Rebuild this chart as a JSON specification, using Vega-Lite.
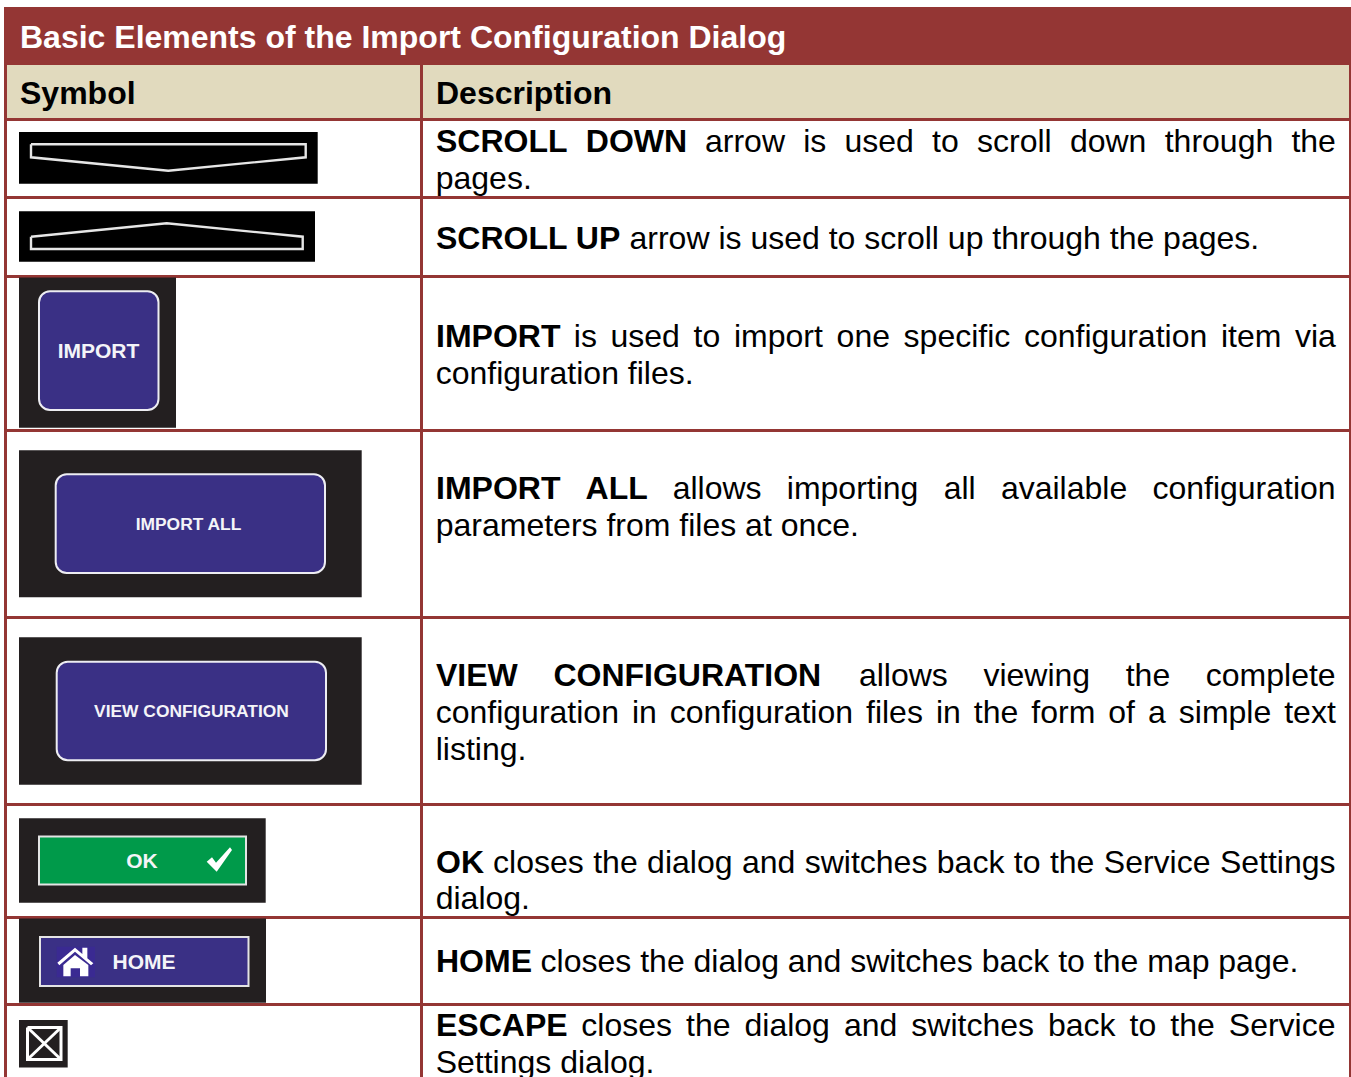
{
"$schema":"https://vega.github.io/schema/vega-lite/v6.json",
"width":1351,"height":1077,"autosize":{"type":"none"},"padding":0,"background":"#ffffff",
"config":{"view":{"stroke":null},"text":{"font":"Liberation Sans"}},
"datasets":{
"panels":[
{"part":"title","x":4,"x2":1351,"y":7,"y2":65},
{"part":"header","x":7,"x2":420,"y":65,"y2":118},
{"part":"header","x":423,"x2":1349,"y":65,"y2":118},
{"part":"rule","x":4,"x2":7,"y":65,"y2":1077},
{"part":"rule","x":420,"x2":423,"y":65,"y2":1077},
{"part":"rule","x":1349,"x2":1351,"y":65,"y2":1077},
{"part":"rule","x":4,"x2":1351,"y":118,"y2":121},
{"part":"rule","x":4,"x2":1351,"y":196,"y2":199},
{"part":"rule","x":4,"x2":1351,"y":275,"y2":278},
{"part":"rule","x":4,"x2":1351,"y":429,"y2":432},
{"part":"rule","x":4,"x2":1351,"y":616,"y2":619},
{"part":"rule","x":4,"x2":1351,"y":803,"y2":806},
{"part":"rule","x":4,"x2":1351,"y":916,"y2":919},
{"part":"rule","x":4,"x2":1351,"y":1003,"y2":1006},
{"part":"black","x":19,"x2":317.7,"y":132,"y2":183.7},
{"part":"black","x":19,"x2":315,"y":211.3,"y2":261.7},
{"part":"dark","x":19,"x2":176,"y":277.5,"y2":427.7},
{"part":"dark","x":19,"x2":361.7,"y":450.3,"y2":597.3},
{"part":"dark","x":19,"x2":361.7,"y":637.3,"y2":784.7},
{"part":"dark","x":19,"x2":265.7,"y":818.3,"y2":902.7},
{"part":"dark","x":19,"x2":266,"y":918.5,"y2":1002.7},
{"part":"dark","x":19,"x2":67.7,"y":1020,"y2":1067.5}
],
"rounded":[
{"button":"IMPORT","x":39,"x2":158.5,"y":291.3,"y2":410},
{"button":"IMPORT ALL","x":55.7,"x2":325,"y":474.3,"y2":573},
{"button":"VIEW CONFIGURATION","x":56.7,"x2":326,"y":661.7,"y2":760.3}
],
"square":[
{"part":"ok","x":39,"x2":246,"y":836.5,"y2":884.5},
{"part":"home","x":40,"x2":248.5,"y":937,"y2":986}
],
"homeIcon":[{"part":"homeIcon","x":56.7,"x2":95,"y":946.7,"y2":977.3}],
"outlines":[
{"shape":"down","step":1,"x":31,"y":144.3},{"shape":"down","step":2,"x":305.7,"y":144.3},{"shape":"down","step":3,"x":305.7,"y":157.3},{"shape":"down","step":4,"x":168.3,"y":170.7},{"shape":"down","step":5,"x":31,"y":157.3},{"shape":"down","step":6,"x":31,"y":144.3},
{"shape":"up","step":1,"x":31,"y":236.7},{"shape":"up","step":2,"x":166.7,"y":223.3},{"shape":"up","step":3,"x":302.7,"y":236.7},{"shape":"up","step":4,"x":302.7,"y":249},{"shape":"up","step":5,"x":31,"y":249},{"shape":"up","step":6,"x":31,"y":236.7}
],
"escape":[
{"shape":"box","step":1,"x":27.5,"y":1027.5},{"shape":"box","step":2,"x":61,"y":1027.5},{"shape":"box","step":3,"x":61,"y":1059.5},{"shape":"box","step":4,"x":27.5,"y":1059.5},{"shape":"box","step":5,"x":27.5,"y":1027.5},
{"shape":"d1","step":1,"x":27.5,"y":1027.5},{"shape":"d1","step":2,"x":61,"y":1059.5},
{"shape":"d2","step":1,"x":61,"y":1027.5},{"shape":"d2","step":2,"x":27.5,"y":1059.5}
],
"check":[{"icon":"check","x":219.5,"y":860}],
"house":[{"icon":"house","x":75,"y":961.7}],
"labelsLarge":[
{"label":"IMPORT","x":98.5,"y":358},
{"label":"OK","x":142,"y":868},
{"label":"HOME","x":144,"y":969}
],
"labelsSmall":[
{"label":"IMPORT ALL","x":188.5,"y":530},
{"label":"VIEW CONFIGURATION","x":191.5,"y":717}
],
"titleText":[{"word":"Basic Elements of the Import Configuration Dialog","x":20,"y":48}],
"bold":[
{"word":"Symbol","x":20,"y":104},{"word":"Description","x":436,"y":104},
{"word":"SCROLL","x":436,"y":152},{"word":"DOWN","x":585.8,"y":152},
{"word":"SCROLL UP","x":436,"y":249},
{"word":"IMPORT","x":436,"y":347},
{"word":"IMPORT","x":436,"y":499},{"word":"ALL","x":585.6,"y":499},
{"word":"VIEW","x":436,"y":686},{"word":"CONFIGURATION","x":553.4,"y":686},
{"word":"OK","x":436,"y":873},
{"word":"HOME","x":436,"y":972},
{"word":"ESCAPE","x":436,"y":1036}
],
"regular":[
{"word":"arrow","x":705,"y":152},{"word":"is","x":803.2,"y":152},{"word":"used","x":844.5,"y":152},{"word":"to","x":932.1,"y":152},{"word":"scroll","x":977,"y":152},{"word":"down","x":1069.9,"y":152},{"word":"through","x":1164.7,"y":152},{"word":"the","x":1291.4,"y":152},
{"word":"pages.","x":435.7,"y":189},
{"word":"arrow is used to scroll up through the pages.","x":629.5,"y":249},
{"word":"is","x":573.8,"y":347},{"word":"used","x":610.5,"y":347},{"word":"to","x":693.6,"y":347},{"word":"import","x":734,"y":347},{"word":"one","x":836.6,"y":347},{"word":"specific","x":903.6,"y":347},{"word":"configuration","x":1024,"y":347},{"word":"item","x":1220.9,"y":347},{"word":"via","x":1295,"y":347},
{"word":"configuration files.","x":435.7,"y":384},
{"word":"allows","x":672.7,"y":499},{"word":"importing","x":786.8,"y":499},{"word":"all","x":943.7,"y":499},{"word":"available","x":1000.9,"y":499},{"word":"configuration","x":1152.4,"y":499},
{"word":"parameters from files at once.","x":435.7,"y":536},
{"word":"allows","x":858.9,"y":686},{"word":"viewing","x":983.4,"y":686},{"word":"the","x":1125.7,"y":686},{"word":"complete","x":1205.8,"y":686},
{"word":"configuration","x":435.7,"y":723},{"word":"in","x":631.9,"y":723},{"word":"configuration","x":669.8,"y":723},{"word":"files","x":866,"y":723},{"word":"in","x":935.9,"y":723},{"word":"the","x":973.8,"y":723},{"word":"form","x":1031.3,"y":723},{"word":"of","x":1108.3,"y":723},{"word":"a","x":1148,"y":723},{"word":"simple","x":1178.8,"y":723},{"word":"text","x":1284.2,"y":723},
{"word":"listing.","x":435.7,"y":760},
{"word":"closes","x":493.1,"y":873},{"word":"the","x":593.2,"y":873},{"word":"dialog","x":647.1,"y":873},{"word":"and","x":741.9,"y":873},{"word":"switches","x":804.7,"y":873},{"word":"back","x":936.8,"y":873},{"word":"to","x":1013.8,"y":873},{"word":"the","x":1049.9,"y":873},{"word":"Service","x":1103.8,"y":873},{"word":"Settings","x":1219.9,"y":873},
{"word":"dialog.","x":435.7,"y":909},
{"word":"closes the dialog and switches back to the map page.","x":540.6,"y":972},
{"word":"closes","x":581.3,"y":1036},{"word":"the","x":686,"y":1036},{"word":"dialog","x":744.5,"y":1036},{"word":"and","x":843.9,"y":1036},{"word":"switches","x":911.3,"y":1036},{"word":"back","x":1048,"y":1036},{"word":"to","x":1129.6,"y":1036},{"word":"the","x":1170.3,"y":1036},{"word":"Service","x":1228.8,"y":1036},
{"word":"Settings dialog.","x":435.7,"y":1073}
]
},
"encoding":{
"x":{"field":"x","type":"quantitative","scale":{"domain":[0,1351],"nice":false,"zero":false},"axis":null},
"y":{"field":"y","type":"quantitative","scale":{"domain":[1077,0],"nice":false,"zero":false},"axis":null}
},
"layer":[
{"data":{"name":"panels"},"mark":{"type":"rect"},
 "encoding":{"x2":{"field":"x2"},"y2":{"field":"y2"},
 "color":{"field":"part","type":"nominal","legend":null,"scale":{"domain":["title","header","rule","black","dark"],"range":["#943634","#E1DABE","#943634","#000000","#231F20"]}}}},
{"data":{"name":"rounded"},"mark":{"type":"rect","cornerRadius":11,"fill":"#3A3085","stroke":"#EDEDF2","strokeWidth":2},
 "encoding":{"x2":{"field":"x2"},"y2":{"field":"y2"}}},
{"data":{"name":"square"},"mark":{"type":"rect","stroke":"#E4E4E4","strokeWidth":2},
 "encoding":{"x2":{"field":"x2"},"y2":{"field":"y2"},
 "fill":{"field":"part","type":"nominal","legend":null,"scale":{"domain":["ok","home"],"range":["#009A4A","#3A3085"]}}}},
{"data":{"name":"homeIcon"},"mark":{"type":"rect","fill":"#3A2A92"},
 "encoding":{"x2":{"field":"x2"},"y2":{"field":"y2"}}},
{"data":{"name":"outlines"},"mark":{"type":"line","stroke":"#E6E6E6","strokeWidth":2.4,"interpolate":"linear"},
 "encoding":{"detail":{"field":"shape"},"order":{"field":"step","type":"quantitative"}}},
{"data":{"name":"escape"},"mark":{"type":"line","stroke":"#FFFFFF","strokeWidth":3,"interpolate":"linear"},
 "encoding":{"detail":{"field":"shape"},"order":{"field":"step","type":"quantitative"}}},
{"data":{"name":"check"},"mark":{"type":"point","filled":true,"opacity":1,"fill":"#FFFFFF","size":1600,
 "shape":"M-0.64 0.085L-0.375 -0.135L-0.175 0.135L0.525 -0.635L0.625 -0.5L-0.14 0.585Z"}},
{"data":{"name":"house"},"mark":{"type":"point","filled":true,"opacity":1,"fill":"#FFFFFF","size":1600,
 "shape":"M-0.883 0.05L0 -0.7L0.367 -0.383L0.367 -0.7L0.617 -0.7L0.617 -0.167L0.917 0.083L0.8 0.183L0 -0.5L-0.783 0.183ZM-0.583 0.167L0 -0.333L0.667 0.167L0.667 0.733L0.25 0.733L0.25 0.333L-0.217 0.333L-0.217 0.733L-0.583 0.733Z"}},
{"data":{"name":"labelsLarge"},"mark":{"type":"text","font":"Liberation Sans","fontWeight":"bold","fontSize":21,"fill":"#F4F4F8","align":"center","baseline":"alphabetic"},
 "encoding":{"text":{"field":"label"}}},
{"data":{"name":"labelsSmall"},"mark":{"type":"text","font":"Liberation Sans","fontWeight":"bold","fontSize":17.4,"fill":"#F4F4F8","align":"center","baseline":"alphabetic"},
 "encoding":{"text":{"field":"label"}}},
{"data":{"name":"titleText"},"mark":{"type":"text","font":"Liberation Sans","fontWeight":"bold","fontSize":32,"fill":"#FFFFFF","align":"left","baseline":"alphabetic"},
 "encoding":{"text":{"field":"word"}}},
{"data":{"name":"bold"},"mark":{"type":"text","font":"Liberation Sans","fontWeight":"bold","fontSize":32,"fill":"#000000","align":"left","baseline":"alphabetic"},
 "encoding":{"text":{"field":"word"}}},
{"data":{"name":"regular"},"mark":{"type":"text","font":"Liberation Sans","fontSize":32,"fill":"#000000","align":"left","baseline":"alphabetic"},
 "encoding":{"text":{"field":"word"}}}
]
}
